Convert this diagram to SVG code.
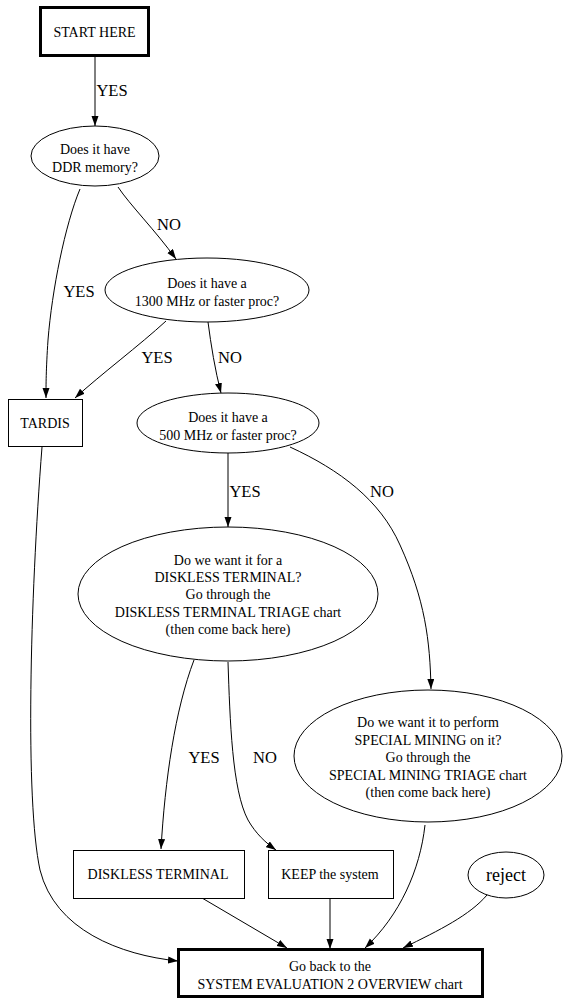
<svg xmlns="http://www.w3.org/2000/svg" width="570" height="1004" viewBox="0 0 570 1004" font-family="'Liberation Serif', 'Times New Roman', serif">
<style>
.n{fill:#fff;stroke:#000;stroke-width:1}
.b{fill:#fff;stroke:#000;stroke-width:3}
text{fill:#000;text-anchor:middle}
.t{font-size:14px}
.l{font-size:16.5px}
.e{fill:none;stroke:#000;stroke-width:1;marker-end:url(#ah)}
</style>
<defs>
<marker id="ah" markerUnits="userSpaceOnUse" markerWidth="11" markerHeight="8" refX="10" refY="3.5" orient="auto">
<path d="M0,0 L10,3.5 L0,7 z" fill="#000"/>
</marker>
</defs>
<rect width="570" height="1004" fill="#fff"/>
<g id="edges">
<path class="e" d="M95,56 L95,126"/>
<path class="e" d="M118,187 C130,205 155,230 176,259"/>
<path class="e" d="M80,189 C65,225 52,290 48,340 C46,370 46,385 46,398"/>
<path class="e" d="M166,321 C140,345 100,375 75,398"/>
<path class="e" d="M208,322 C211,345 215,370 221,393"/>
<path class="e" d="M228,453 L228,527"/>
<path class="e" d="M290,447 C340,470 380,500 400,545 C425,600 430,640 431,689"/>
<path class="e" d="M194,660 C175,710 165,780 161,849"/>
<path class="e" d="M228,662 C230,720 232,790 248,820 C256,834 266,843 276,850"/>
<path class="e" d="M42,447 C30,600 25,800 40,870 C55,930 120,955 178,961"/>
<path class="e" d="M202,898 L287,948"/>
<path class="e" d="M330,898 L330,949"/>
<path class="e" d="M425,825 C420,870 400,915 365,948"/>
<path class="e" d="M487,895 C470,915 440,930 403,948"/>
<text class="l" x="112" y="96">YES</text>
<text class="l" x="169" y="230">NO</text>
<text class="l" x="79" y="297">YES</text>
<text class="l" x="157" y="363">YES</text>
<text class="l" x="230" y="363">NO</text>
<text class="l" x="245" y="497">YES</text>
<text class="l" x="382" y="497">NO</text>
<text class="l" x="204" y="763">YES</text>
<text class="l" x="265" y="763">NO</text>
</g>
<g id="start">
<rect class="b" x="40.5" y="7.5" width="108" height="48"/>
<text class="t" x="94.5" y="37">START HERE</text>
</g>
<g id="ddr">
<ellipse class="n" cx="95" cy="156" rx="64" ry="30"/>
<text class="t" x="95" y="154">Does it have</text>
<text class="t" x="95" y="172">DDR memory?</text>
</g>
<g id="mhz1300">
<ellipse class="n" cx="207" cy="290" rx="102" ry="32"/>
<text class="t" x="207" y="288">Does it have a</text>
<text class="t" x="207" y="306">1300 MHz or faster proc?</text>
</g>
<g id="tardis">
<rect class="n" x="8.5" y="399.5" width="74" height="47"/>
<text class="t" x="45" y="428">TARDIS</text>
</g>
<g id="mhz500">
<ellipse class="n" cx="228" cy="423" rx="91" ry="30"/>
<text class="t" x="228" y="422">Does it have a</text>
<text class="t" x="228" y="440">500 MHz or faster proc?</text>
</g>
<g id="diskless_q">
<ellipse class="n" cx="228" cy="594" rx="150" ry="67"/>
<text class="t" x="228" y="565">Do we want it for a</text>
<text class="t" x="228" y="582">DISKLESS TERMINAL?</text>
<text class="t" x="228" y="599">Go through the</text>
<text class="t" x="228" y="617">DISKLESS TERMINAL TRIAGE chart</text>
<text class="t" x="228" y="634">(then come back here)</text>
</g>
<g id="special_q">
<ellipse class="n" cx="428" cy="756" rx="134" ry="66"/>
<text class="t" x="428" y="727">Do we want it to perform</text>
<text class="t" x="428" y="745">SPECIAL MINING on it?</text>
<text class="t" x="428" y="762">Go through the</text>
<text class="t" x="428" y="780">SPECIAL MINING TRIAGE chart</text>
<text class="t" x="428" y="797">(then come back here)</text>
</g>
<g id="diskless_terminal">
<rect class="n" x="73.5" y="850.5" width="171" height="48"/>
<text class="t" x="158" y="879">DISKLESS TERMINAL</text>
</g>
<g id="keep">
<rect class="n" x="268.5" y="850.5" width="125" height="48"/>
<text class="t" x="330" y="879">KEEP the system</text>
</g>
<g id="reject">
<ellipse class="n" cx="506" cy="875" rx="38" ry="23"/>
<text x="506" y="881" style="font-size:18px">reject</text>
</g>
<g id="goback">
<rect class="b" x="178.5" y="949.5" width="304" height="47"/>
<text class="t" x="330" y="971">Go back to the</text>
<text class="t" x="330" y="989">SYSTEM EVALUATION 2 OVERVIEW chart</text>
</g>
</svg>
